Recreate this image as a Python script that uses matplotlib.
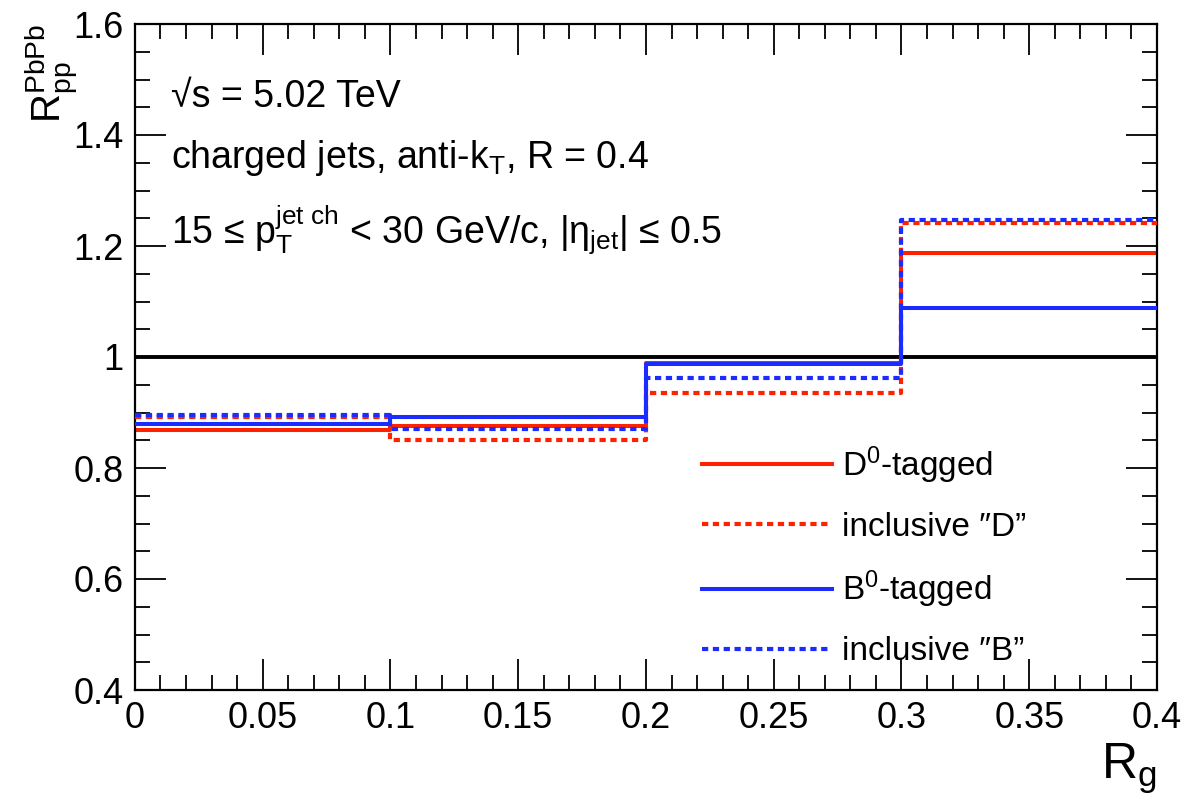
import numpy as np
import matplotlib
matplotlib.use("Agg")
import matplotlib.pyplot as plt
from matplotlib.ticker import MultipleLocator

plt.rcParams['font.family'] = ['Liberation Sans', 'DejaVu Sans']
plt.rcParams['mathtext.fontset'] = 'custom'
plt.rcParams['mathtext.rm'] = 'Liberation Sans'
plt.rcParams['mathtext.it'] = 'Liberation Sans'
plt.rcParams['mathtext.sf'] = 'Liberation Sans'

# bin edges in R_g and R_AA values per bin
rg_edges = [0.0, 0.1, 0.2, 0.3, 0.4]
d0_tagged = [0.869, 0.876, 0.989, 1.188]
incl_d = [0.891, 0.850, 0.935, 1.241]
b0_tagged = [0.880, 0.891, 0.987, 1.089]
incl_b = [0.895, 0.871, 0.962, 1.246]

red = '#ff2200'
blue = '#1a2cff'

fig = plt.figure(figsize=(12.04, 8), dpi=100)
ax = fig.add_axes([0.112, 0.1375, 0.849, 0.8325])

def steps(vals):
    return list(vals) + [vals[-1]]

ax.axhline(1.0, color='black', lw=2.8, zorder=1)
ax.step(rg_edges, steps(d0_tagged), where='post', color=red, lw=2.9,
        label='D$^{0}$-tagged', zorder=2)
ax.step(rg_edges, steps(incl_d), where='post', color=red, lw=3.0,
        dashes=(1.5, 1.1), label='inclusive \u2033D\u201d', zorder=3)
ax.step(rg_edges, steps(b0_tagged), where='post', color=blue, lw=2.9,
        label='B$^{0}$-tagged', zorder=4)
ax.step(rg_edges, steps(incl_b), where='post', color=blue, lw=3.0,
        dashes=(1.5, 1.1), label='inclusive \u2033B\u201d', zorder=5)

ax.set_xlim(0, 0.4)
ax.set_ylim(0.4, 1.6)
ax.xaxis.set_minor_locator(MultipleLocator(0.01))
ax.yaxis.set_minor_locator(MultipleLocator(0.05))
ax.tick_params(which='both', direction='in', top=True, right=True,
               labelsize=26, width=1.3, pad=8)
ax.tick_params(which='major', length=22)
ax.tick_params(which='minor', length=11)
ax.set_xticks(np.arange(0, 0.41, 0.05))
ax.set_xticklabels(['0', '0.05', '0.1', '0.15', '0.2', '0.25', '0.3', '0.35', '0.4'])
ax.set_yticks(np.arange(0.4, 1.61, 0.2))
ax.set_yticklabels(['0.4', '0.6', '0.8', '1', '1.2', '1.4', '1.6'])
for s in ax.spines.values():
    s.set_linewidth(1.6)

ax.set_ylabel(r'$\mathrm{R}_{\mathrm{pp}}^{\mathrm{PbPb}}$', fontsize=29, loc='top')
ax.yaxis.set_label_coords(-0.054, 1.0)
ax.set_xlabel(r'$\mathrm{R}_{\mathrm{g}}$', fontsize=36, loc='right', labelpad=4)

ax.text(0.035, 0.875, '\u221as = 5.02 TeV', transform=ax.transAxes,
        fontsize=27, va='baseline')
ax.text(0.035, 0.784, r'charged jets, anti-k$_{\mathrm{T}}$, R = 0.4',
        transform=ax.transAxes, fontsize=27, va='baseline')
ax.text(0.035, 0.671,
        r'15 ≤ p$_{\mathrm{T}}^{\mathrm{jet\ ch}}$ < 30 GeV/c, |$\eta_{\mathrm{jet}}$| ≤ 0.5',
        transform=ax.transAxes, fontsize=27, va='baseline')

ax.legend(loc='lower left', bbox_to_anchor=(0.525, -0.011), frameon=False,
          fontsize=24, handlelength=3.9, handletextpad=0.3, labelspacing=0.78)

fig.savefig('out.png', dpi=100)
